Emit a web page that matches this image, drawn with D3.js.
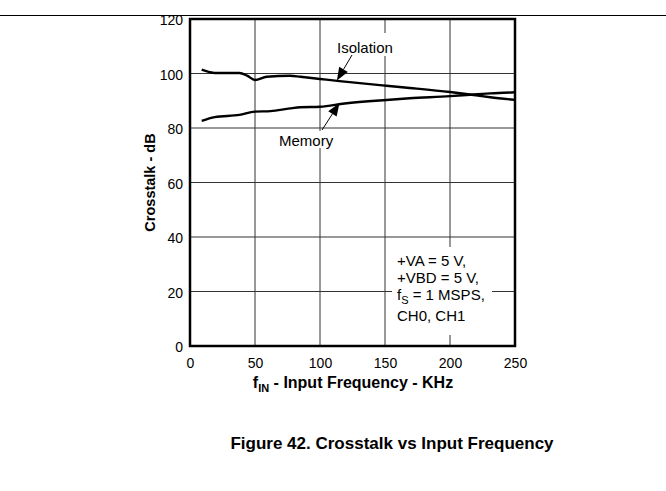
<!DOCTYPE html>
<html><head><meta charset="utf-8">
<script src="https://cdn.jsdelivr.net/npm/d3@7"></script>
<style>
html,body{margin:0;padding:0;background:#fff;}
svg{display:block;font-family:"Liberation Sans",Arial,Helvetica,sans-serif;}
</style></head>
<body><svg id="chart" width="666" height="491"></svg>
<script>
// ---- data ----
const isolationFreq = [9, 15, 19, 38, 44, 50, 59, 77, 85, 100, 115, 151, 169, 200, 215, 231, 250];
const isolationDb   = [101.4, 100.5, 100.2, 100.2, 99.2, 97.6, 98.8, 99.2, 98.8, 98.0, 97.2, 95.5, 94.7, 93.2, 92.3, 91.3, 90.3];
const memoryFreq = [9, 19, 38, 50, 62, 77, 85, 100, 119, 151, 169, 200, 218, 231, 250];
const memoryDb   = [82.6, 84.0, 84.8, 86.0, 86.2, 87.2, 87.6, 87.8, 89.0, 90.3, 90.9, 91.7, 92.3, 92.7, 93.1];
const xTicks = [0, 50, 100, 150, 200, 250];
const yTicks = [0, 20, 40, 60, 80, 100, 120];
const conditions = ["+VA = 5 V,", "+VBD = 5 V,", "f|S| = 1 MSPS,", "CH0, CH1"];
const titleText = "Figure 42. Crosstalk vs Input Frequency";

// ---- layout ----
const svg = d3.select("#chart");
const L = 190, R = 515, T = 19, B = 346;
const x = d3.scaleLinear().domain([0, 250]).range([L, R]);
const y = d3.scaleLinear().domain([0, 120]).range([B, T]);

// top rule
svg.append("line").attr("x1", 0).attr("x2", 666).attr("y1", 15.5).attr("y2", 15.5)
  .attr("stroke", "#000").attr("stroke-width", 1);

// grid
const grid = svg.append("g");
grid.selectAll(".vg").data(xTicks.slice(1, -1)).enter().append("line")
  .attr("x1", d => x(d)).attr("x2", d => x(d)).attr("y1", T).attr("y2", B)
  .attr("stroke", "#333").attr("stroke-width", 1);
grid.selectAll(".hg").data(yTicks.slice(1, -1)).enter().append("line")
  .attr("x1", L).attr("x2", R).attr("y1", d => y(d)).attr("y2", d => y(d))
  .attr("stroke", "#333").attr("stroke-width", 1);

// white boxes behind annotation text (interrupt grid)
svg.append("rect").attr("x", 392).attr("y", 247).attr("width", 100).attr("height", 88).attr("fill", "#fff");
svg.append("rect").attr("x", 277).attr("y", 131).attr("width", 60).attr("height", 17).attr("fill", "#fff");
svg.append("rect").attr("x", 334).attr("y", 33).attr("width", 63).attr("height", 23).attr("fill", "#fff");

// axes (tick labels only)
const xAxis = d3.axisBottom(x).tickValues(xTicks).tickSize(0).tickPadding(12);
const gx = svg.append("g").attr("transform", `translate(0,${B})`).call(xAxis);
gx.select(".domain").remove();
gx.selectAll("text").attr("font-size", 14).attr("fill", "#000").attr("font-family", "inherit");

const yAxis = d3.axisLeft(y).tickValues(yTicks).tickSize(0).tickPadding(7);
const gy = svg.append("g").attr("transform", `translate(${L},1.5)`).call(yAxis);
gy.select(".domain").remove();
gy.selectAll("text").attr("font-size", 14).attr("fill", "#000").attr("font-family", "inherit");

// frame
svg.append("rect").attr("x", L).attr("y", T).attr("width", R - L).attr("height", B - T)
  .attr("fill", "none").attr("stroke", "#000").attr("stroke-width", 2.5);

// curves
const line = d3.line().x(d => x(d[0])).y(d => y(d[1])).curve(d3.curveMonotoneX);
const iso = isolationFreq.map((f, i) => [f, isolationDb[i]]);
const mem = memoryFreq.map((f, i) => [f, memoryDb[i]]);
[iso, mem].forEach(s => {
  svg.append("path").attr("d", line(s)).attr("fill", "none")
    .attr("stroke", "#000").attr("stroke-width", 2.4).attr("stroke-linejoin", "round");
});

// arrows
function arrow(x1, y1, x2, y2) {
  const a = Math.atan2(y2 - y1, x2 - x1);
  const len = 13, w = 5;
  const bx = x2 - len * Math.cos(a), by = y2 - len * Math.sin(a);
  svg.append("line").attr("x1", x1).attr("y1", y1).attr("x2", bx).attr("y2", by)
    .attr("stroke", "#000").attr("stroke-width", 1);
  const px = -Math.sin(a) * w, py = Math.cos(a) * w;
  svg.append("path").attr("d", `M${x2},${y2}L${bx + px},${by + py}L${bx - px},${by - py}Z`).attr("fill", "#000");
}
arrow(352, 55, x(113), y(97.4));
arrow(322, 130, x(115), y(89.2));

// annotation labels
svg.append("text").attr("x", 337).attr("y", 53).attr("font-size", 15).text("Isolation");
svg.append("text").attr("x", 279).attr("y", 146).attr("font-size", 15).text("Memory");

conditions.forEach((c, i) => {
  const yy = [266, 283, 299.5, 321][i];
  const t = svg.append("text").attr("x", 397).attr("y", yy).attr("font-size", 15);
  const parts = c.split("|");
  if (parts.length === 3) {
    t.append("tspan").text(parts[0]);
    t.append("tspan").attr("font-size", 11).attr("dy", 4).text(parts[1]);
    t.append("tspan").attr("dy", -4).text(parts[2]);
  } else {
    t.text(c);
  }
});

// axis titles
const xl = svg.append("text").attr("x", 353).attr("y", 388)
  .attr("text-anchor", "middle").attr("font-size", 16).attr("font-weight", "bold");
xl.append("tspan").text("f");
xl.append("tspan").attr("font-size", 11).attr("dy", 4).text("IN");
xl.append("tspan").attr("dy", -4).text(" - Input Frequency - KHz");

svg.append("text").attr("transform", `translate(155,${(T + B) / 2}) rotate(-90)`)
  .attr("text-anchor", "middle").attr("font-size", 14.5).attr("font-weight", "bold")
  .text("Crosstalk - dB");

svg.append("text").attr("x", 392).attr("y", 449).attr("text-anchor", "middle")
  .attr("font-size", 17).attr("font-weight", "bold").text(titleText);
</script></body></html>
